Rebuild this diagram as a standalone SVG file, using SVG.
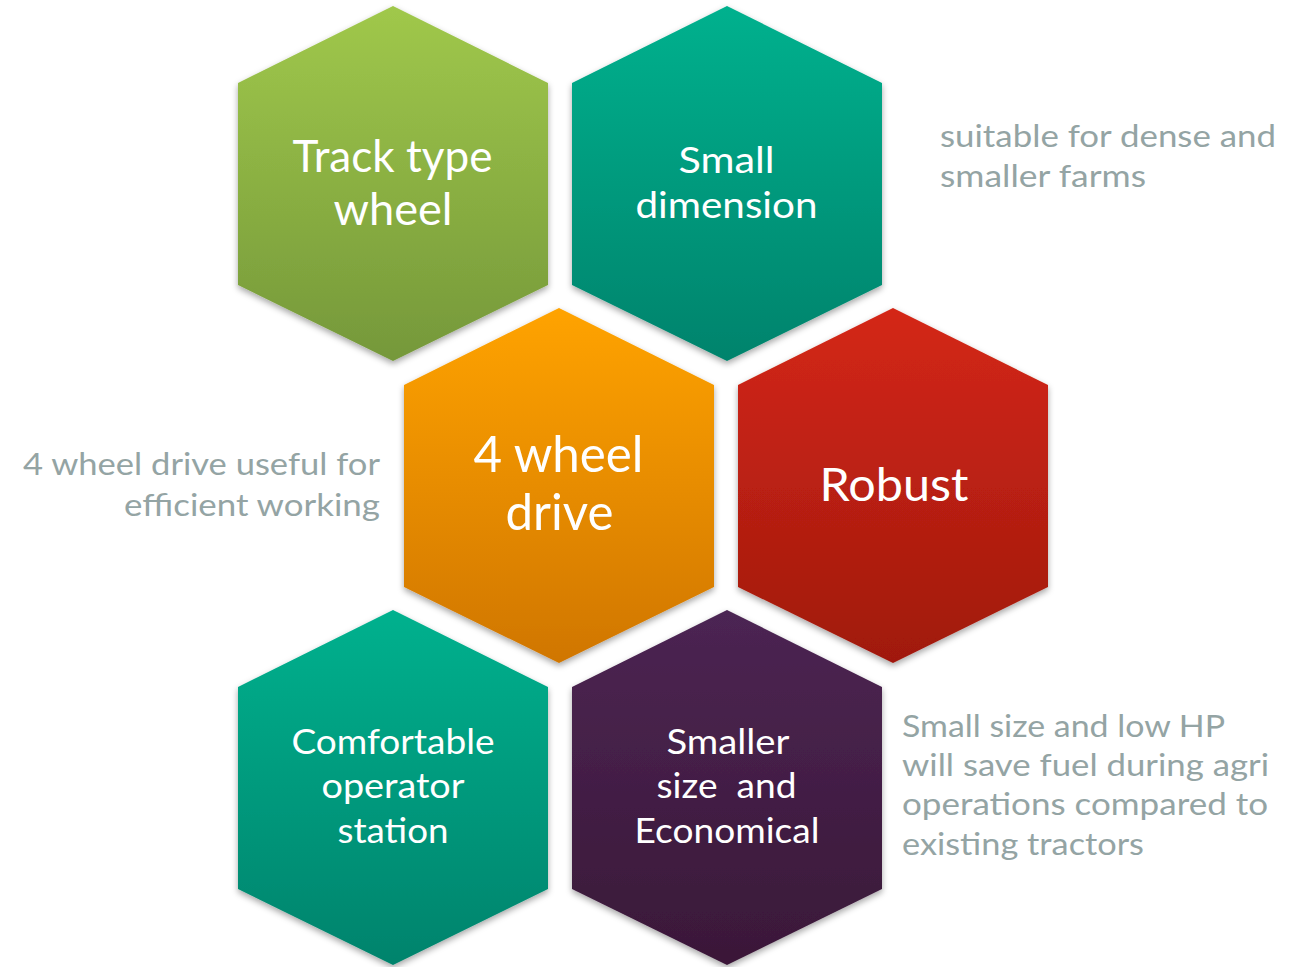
<svg xmlns="http://www.w3.org/2000/svg" width="1309" height="967" viewBox="0 0 1309 967">
<defs>
<linearGradient id="gGreen" x1="0" y1="0" x2="0" y2="1"><stop offset="0" stop-color="#A0C84B"/><stop offset="1" stop-color="#75983A"/></linearGradient>
<linearGradient id="gTeal" x1="0" y1="0" x2="0" y2="1"><stop offset="0" stop-color="#00B18E"/><stop offset="1" stop-color="#00836C"/></linearGradient>
<linearGradient id="gOrange" x1="0" y1="0" x2="0" y2="1"><stop offset="0" stop-color="#FFA300"/><stop offset="1" stop-color="#D07600"/></linearGradient>
<linearGradient id="gRed" x1="0" y1="0" x2="0" y2="1"><stop offset="0" stop-color="#D42716"/><stop offset="1" stop-color="#A0190E"/></linearGradient>
<linearGradient id="gPurple" x1="0" y1="0" x2="0" y2="1"><stop offset="0" stop-color="#4C2553"/><stop offset="1" stop-color="#3A1838"/></linearGradient>
<filter id="sh" x="-10%" y="-10%" width="120%" height="125%"><feDropShadow dx="0" dy="3" stdDeviation="3" flood-color="#000" flood-opacity="0.35"/></filter>
<polygon id="hex" points="0,-177.5 155,-100.5 155,101.5 0,177.5 -155,101.5 -155,-100.5"/>
</defs>
<style>
.lbl{font-family:Lato,"Open Sans","Liberation Sans",sans-serif;fill:#FFFFFF;text-anchor:middle;}
.side{font-family:Lato,"Open Sans","Liberation Sans",sans-serif;fill:#94A4A4;font-size:30px;}
</style>
<rect width="1309" height="967" fill="#FFFFFF"/>
<g id="node-track">
<use href="#hex" x="393" y="183.5" fill="url(#gGreen)" filter="url(#sh)"/>
<text class="lbl" x="392.5" y="172" font-size="44" textLength="200" lengthAdjust="spacingAndGlyphs">Track type</text>
<text class="lbl" x="393" y="225" font-size="44" textLength="119" lengthAdjust="spacingAndGlyphs">wheel</text>
</g>
<g id="node-small">
<use href="#hex" x="727" y="183.5" fill="url(#gTeal)" filter="url(#sh)"/>
<text class="lbl" x="726.5" y="173" font-size="37" textLength="96" lengthAdjust="spacingAndGlyphs">Small</text>
<text class="lbl" x="726.5" y="218" font-size="37" textLength="182" lengthAdjust="spacingAndGlyphs">dimension</text>
</g>
<g id="node-4wd">
<use href="#hex" x="559" y="485.5" fill="url(#gOrange)" filter="url(#sh)"/>
<text class="lbl" x="558.5" y="472" font-size="50" textLength="170" lengthAdjust="spacingAndGlyphs">4 wheel</text>
<text class="lbl" x="559.5" y="530" font-size="50" textLength="108" lengthAdjust="spacingAndGlyphs">drive</text>
</g>
<g id="node-robust">
<use href="#hex" x="893" y="485.5" fill="url(#gRed)" filter="url(#sh)"/>
<text class="lbl" x="894" y="501" font-size="47" textLength="149" lengthAdjust="spacingAndGlyphs">Robust</text>
</g>
<g id="node-comfort">
<use href="#hex" x="393" y="787.5" fill="url(#gTeal)" filter="url(#sh)"/>
<text class="lbl" x="393" y="754" font-size="34" textLength="203" lengthAdjust="spacingAndGlyphs">Comfortable</text>
<text class="lbl" x="393" y="798" font-size="34" textLength="143" lengthAdjust="spacingAndGlyphs">operator</text>
<text class="lbl" x="393" y="843" font-size="34" textLength="111" lengthAdjust="spacingAndGlyphs">station</text>
</g>
<g id="node-econ">
<use href="#hex" x="727" y="787.5" fill="url(#gPurple)" filter="url(#sh)"/>
<text class="lbl" x="728" y="754" font-size="34" textLength="123" lengthAdjust="spacingAndGlyphs">Smaller</text>
<text class="lbl" x="726.5" y="798" font-size="34" textLength="140" lengthAdjust="spacingAndGlyphs" xml:space="preserve">size  and</text>
<text class="lbl" x="727" y="843" font-size="34" textLength="185" lengthAdjust="spacingAndGlyphs">Economical</text>
</g>
<g id="notes">
<text class="side" x="940" y="147" textLength="336" lengthAdjust="spacingAndGlyphs">suitable for dense and</text>
<text class="side" x="940" y="187" textLength="206" lengthAdjust="spacingAndGlyphs">smaller farms</text>
<text class="side" x="380" y="475" text-anchor="end" textLength="357" lengthAdjust="spacingAndGlyphs">4 wheel drive useful for</text>
<text class="side" x="380" y="516" text-anchor="end" textLength="256" lengthAdjust="spacingAndGlyphs">efficient working</text>
<text class="side" x="902" y="737" textLength="323" lengthAdjust="spacingAndGlyphs">Small size and low HP</text>
<text class="side" x="902" y="776" textLength="367" lengthAdjust="spacingAndGlyphs">will save fuel during agri</text>
<text class="side" x="902" y="815" textLength="366" lengthAdjust="spacingAndGlyphs">operations compared to</text>
<text class="side" x="902" y="855" textLength="242" lengthAdjust="spacingAndGlyphs">existing tractors</text>
</g>
<g id="connectors"></g>
</svg>
